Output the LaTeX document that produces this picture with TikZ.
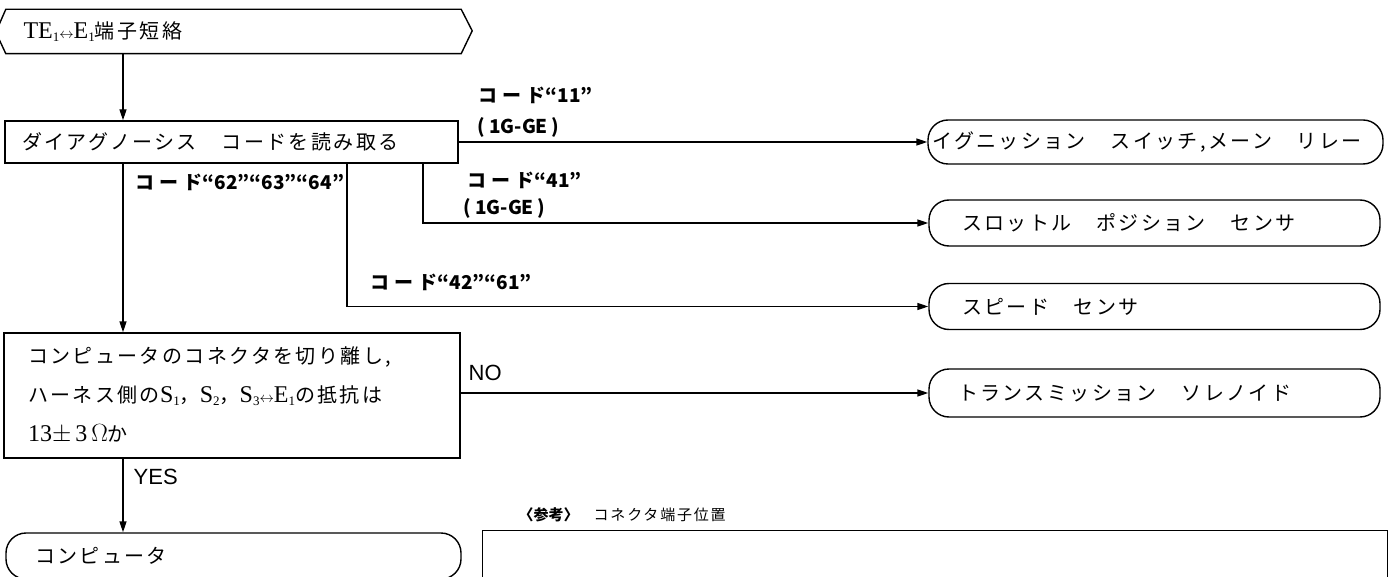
\documentclass[tikz,border=0pt]{standalone}
\usepackage{fontspec}
\usetikzlibrary{arrows.meta,calc}
\newfontfamily\jp{Noto Sans CJK JP}[LetterSpace=12]
\newfontfamily\jpn{Noto Sans CJK JP}
\newfontfamily\lsans{Liberation Sans}
\newfontfamily\lser{Liberation Serif}
\newcommand\lat[1]{{\fontsize{24pt}{24pt}\selectfont\lser #1}}
\newcommand\lsub[1]{\raisebox{-3pt}{\fontsize{13pt}{13pt}\selectfont\lser #1}}
\newcommand\lra{{\fontsize{15pt}{15pt}\selectfont$\leftrightarrow$}}
\newcommand\code{コ\hspace{5pt}ー\hspace{5pt}ド}
\begin{document}
\begin{tikzpicture}[x=1pt,y=-1pt,line width=1.4pt,
  every node/.style={inner sep=0pt},
  proc/.style={draw,rectangle,anchor=center,align=left,font=\fontsize{20pt}{39pt}\selectfont},
  term/.style={draw,rectangle,rounded corners=20pt,anchor=center,align=left,font=\fontsize{20pt}{24pt}\selectfont},
  lbl/.style={anchor=west,font=\fontsize{19pt}{22pt}\selectfont\jpn\bfseries},
  yn/.style={anchor=west,font=\fontsize{22pt}{24pt}\selectfont\lsans},
  arr/.style={-{Triangle[length=11pt,width=7pt]}}]
\useasboundingbox (0,0) rectangle (1394,577);
\clip (0,0) rectangle (1394,577);
\coordinate (mx) at (123,0);
% start (hexagon)
\node[rectangle,minimum width=437pt,minimum height=43pt,text width=420pt,inner xsep=17pt,align=left,
  font=\fontsize{20pt}{24pt}\selectfont] (start) at (233.5,31.5)
  {\lat{TE}\lsub{1}\lra\lat{E}\lsub{1}{\jp 端子短絡}};
\draw (start.north west) -- (start.north east) -- ++(11,21.5) -- (start.south east)
  -- (start.south west) -- ++(-10,-21.5) -- cycle;
% process boxes
\node[proc,minimum height=42pt,text width=419pt,inner xsep=17pt] (b1) at (231.5,142)
  {\jp ダイアグノーシス　コードを読み取る};
\node[proc,minimum height=125pt,text width=408pt,inner xsep=24pt] (b3) at (232,395.5)
  {{\jp コンピュータのコネクタを切り離し,}\\
   {\jp ハーネス側の}\lat{S}\lsub{1}{\jp ，}\lat{S}\lsub{2}{\jp ，}\lat{S}\lsub{3}\lra\lat{E}\lsub{1}{\jp の抵抗は}\\
   \lat{13$\pm$\,3\,$\Omega$}{\jp か}};
% terminals
\node[term,minimum width=455pt,minimum height=44pt,text width=447pt,inner xsep=4pt] (t1) at (1155.5,142)
  {\jp イグニッション　スイッチ,メーン　リレー};
\node[term,minimum width=451pt,minimum height=46pt,text width=385pt,inner xsep=33pt] (t2) at (1154.5,223)
  {\jp スロットル　ポジション　センサ};
\node[term,minimum width=451pt,minimum height=46pt,text width=385pt,inner xsep=33pt] (t3) at (1154.5,306.5)
  {\jp スピード　センサ};
\node[term,minimum width=451pt,minimum height=48pt,text width=393pt,inner xsep=29pt] (t4) at (1154.5,393)
  {\jp トランスミッション　ソレノイド};
\node[term,minimum width=455pt,minimum height=46pt,text width=397pt,inner xsep=29pt] (t5) at (233.5,556)
  {\jp コンピュータ};
% reference box (cut off at the bottom)
\node[draw,rectangle,minimum width=905pt,minimum height=100pt,anchor=north west] (refbox) at (482,530) {};
\node[anchor=west,font=\fontsize{15pt}{18pt}\selectfont\jpn\bfseries] (refa) at (518,515) {〈参考〉};
\node[anchor=west,font=\fontsize{15pt}{18pt}\selectfont\jp] (refb) at (593,515) {コネクタ端子位置};
% connectors
\draw[arr] (start.south -| mx) -- (b1.north -| mx);
\draw[arr] (b1.east) -- (t1.west);
\draw[arr] (b1.south -| 423,0) |- (t2.west);
\draw[arr] (b1.south -| 347,0) |- (t3.west);
\draw[arr] (b1.south -| mx) -- (b3.north -| mx);
\draw[arr] (b3.east |- t4.west) -- (t4.west);
\draw[arr] (b3.south -| mx) -- (t5.north -| mx);
% labels
\node[lbl] (l11) at (478,95) {\code“11”};
\node[lbl] (l11b) at (477,127) {(\hspace{4pt}1G-GE\hspace{4pt})};
\node[lbl] (l41) at (467,180) {\code“41”};
\node[lbl] (l41b) at (463,208) {(\hspace{4pt}1G-GE\hspace{4pt})};
\node[lbl] (l62) at (135,182) {\code“62”“63”“64”};
\node[lbl] (l42) at (370,282) {\code“42”“61”};
\node[yn] (no) at (468,373) {NO};
\node[yn] (yes) at (133,477) {YES};
\end{tikzpicture}
\end{document}
